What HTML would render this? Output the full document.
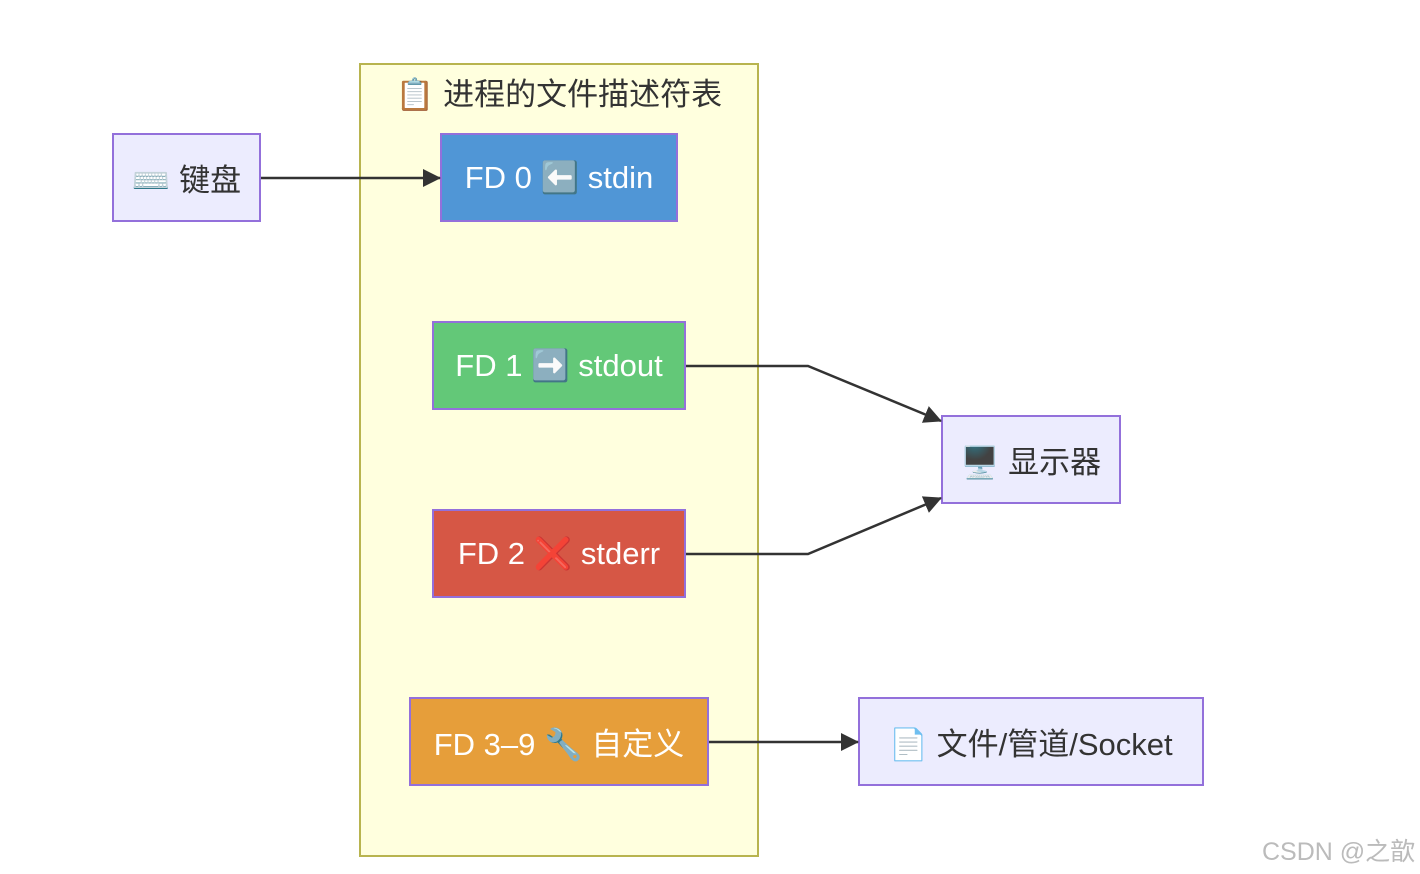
<!DOCTYPE html>
<html><head><meta charset="utf-8"><style>
body{margin:0;width:1420px;height:874px;background:#fff;position:relative;overflow:hidden;font-family:"Liberation Sans","Noto Sans CJK SC",sans-serif;}
.b{position:absolute;box-sizing:border-box;display:flex;align-items:center;justify-content:center;font-size:31px;white-space:nowrap;}
.n{background:#ececfe;border:2px solid #9370db;color:#333;}
.f{border:2px solid #9370db;color:#fff;}
</style></head><body>
<div class="b" style="left:359px;top:63px;width:400px;height:794px;background:#ffffde;border:2px solid #b8b44f;align-items:flex-start;padding-top:4px;color:#333;font-size:31px;">📋 进程的文件描述符表</div>
<div class="b n" style="left:112px;top:133px;width:149px;height:89px;">⌨️ 键盘</div>
<div class="b f" style="left:440px;top:133px;width:238px;height:89px;background:#5096d6;">FD 0 ⬅️ stdin</div>
<div class="b f" style="left:432px;top:321px;width:254px;height:89px;background:#63c878;">FD 1 ➡️ stdout</div>
<div class="b f" style="left:432px;top:509px;width:254px;height:89px;background:#d65745;">FD 2 ❌ stderr</div>
<div class="b f" style="left:409px;top:697px;width:300px;height:89px;background:#e69e3a;">FD 3–9 🔧 自定义</div>
<div class="b n" style="left:941px;top:415px;width:180px;height:89px;">🖥️ 显示器</div>
<div class="b n" style="left:858px;top:697px;width:346px;height:89px;">📄 文件/管道/Socket</div>
<svg width="1420" height="874" style="position:absolute;left:0;top:0">
<defs><marker id="m" markerWidth="18" markerHeight="18" refX="17" refY="9" orient="auto" markerUnits="userSpaceOnUse"><path d="M0,0L18,9L0,18z" fill="#333"/></marker></defs>
<g stroke="#333" stroke-width="2.5" fill="none">
<path d="M261,178H440" marker-end="url(#m)"/>
<path d="M686,366H808L941,421" marker-end="url(#m)"/>
<path d="M686,554H808L941,498" marker-end="url(#m)"/>
<path d="M709,742H858" marker-end="url(#m)"/>
</g></svg>
<div style="position:absolute;left:1262px;top:832px;font-size:25px;color:#bbb;">CSDN @之歆</div>
</body></html>
